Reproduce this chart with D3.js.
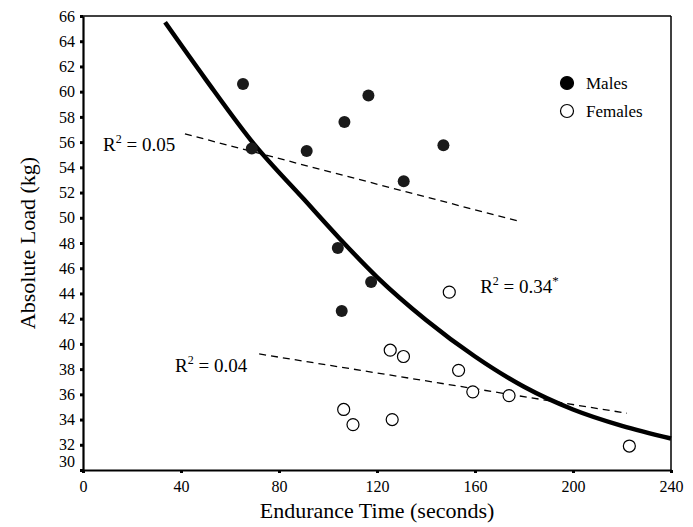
<!DOCTYPE html>
<html>
<head>
<meta charset="utf-8">
<script src="https://cdn.jsdelivr.net/npm/d3@7"></script>
<style>
  body { margin: 0; background: #fff; }
  svg { font-family: "Liberation Serif", "Times New Roman", serif; }
  text { fill: #000; }
</style>
</head>
<body>
<svg id="chart" width="693" height="527"></svg>
<script>
// endurance time (s) vs absolute load (kg)
var males = [
  [65.3, 60.6], [68.9, 55.5], [91.3, 55.3], [106.7, 57.6], [116.5, 59.7],
  [147.1, 55.75], [130.9, 52.9], [104.0, 47.6], [117.6, 44.9], [105.6, 42.6]
];
var females = [
  [149.5, 44.1], [125.4, 39.5], [130.8, 39.0], [153.3, 37.9], [159.1, 36.2],
  [173.9, 35.9], [106.4, 34.8], [110.2, 33.6], [126.2, 34.0], [223.0, 31.9]
];
// regression lines (endpoints)
var maleFit = [[41.6, 56.65], [178.4, 49.7]];
var femaleFit = [[71.9, 39.2], [222.0, 34.5]];
// pooled curve, read at regular steps
var pooledCurve = [
  [33.5, 65.5], [50, 61.0], [70, 55.8], [90, 51.5], [105, 48.3], [120, 45.3],
  [140, 41.9], [160, 39.0], [180, 36.6], [200, 34.8], [220, 33.5], [240, 32.5]
];
var xTicks = [0, 40, 80, 120, 160, 200, 240];
var yTicks = d3.range(30, 67, 2);
var legendItems = ["Males", "Females"];
var r2Labels = [
  {val: "0.05", star: false, at: [8.2, 55.3]},
  {val: "0.04", star: false, at: [37.6, 37.8]},
  {val: "0.34", star: true, at: [162.1, 44.0]}
];

var m = {left: 83, top: 16, right: 671, bottom: 470};
var svg = d3.select("#chart");

var x = d3.scaleLinear().domain([0, 240]).range([m.left, m.right]);
var y = d3.scaleLinear().domain([30, 66]).range([m.bottom, m.top]);

// frame top / right
svg.append("line").attr("x1", m.left).attr("x2", m.right).attr("y1", m.top).attr("y2", m.top)
  .style("stroke", "#000").style("stroke-width", 1.5);
svg.append("line").attr("x1", m.right).attr("x2", m.right).attr("y1", m.top).attr("y2", m.bottom)
  .style("stroke", "#000").style("stroke-width", 1.5);

// axes
var xAxis = svg.append("g")
  .attr("transform", "translate(0," + m.bottom + ")")
  .call(d3.axisBottom(x).tickValues(xTicks).tickSize(3).tickPadding(8).tickSizeOuter(0));
var yAxis = svg.append("g")
  .attr("transform", "translate(" + m.left + ",0)")
  .call(d3.axisLeft(y).tickValues(yTicks).tickSize(3).tickPadding(5).tickSizeOuter(0));

[xAxis, yAxis].forEach(function(a) {
  a.attr("font-family", null).attr("font-size", null);
  a.select(".domain").style("stroke", "#000").style("stroke-width", 2.2);
  a.selectAll(".tick line").style("stroke", "#000").style("stroke-width", 3);
  a.selectAll(".tick text").style("font-size", "16px");
});
// the bottom "30" label sits squeezed above the corner
yAxis.selectAll(".tick text").filter(d => d === 30).attr("dy", "-0.25em");

// axis titles
svg.append("text")
  .attr("x", (m.left + m.right) / 2)
  .attr("y", 518)
  .attr("text-anchor", "middle")
  .style("font-size", "22px")
  .text("Endurance Time (seconds)");
svg.append("text")
  .attr("transform", "translate(35," + ((m.top + m.bottom) / 2) + ") rotate(-90)")
  .attr("text-anchor", "middle")
  .style("font-size", "22px")
  .text("Absolute Load (kg)");

// dashed regression lines
var line = d3.line().x(d => x(d[0])).y(d => y(d[1]));
[maleFit, femaleFit].forEach(function(f) {
  svg.append("path")
    .attr("d", line(f))
    .style("fill", "none")
    .style("stroke", "#000")
    .style("stroke-width", 1.3)
    .style("stroke-dasharray", "7,5");
});

// pooled curve
svg.append("path")
  .attr("d", line.curve(d3.curveMonotoneX)(pooledCurve))
  .style("fill", "none")
  .style("stroke", "#000")
  .style("stroke-width", 4.5);

// points
svg.selectAll(".male")
  .data(males)
  .enter().append("circle")
  .attr("class", "male")
  .attr("cx", d => x(d[0]))
  .attr("cy", d => y(d[1]))
  .attr("r", 6)
  .style("fill", "#1a1a1a");

svg.selectAll(".female")
  .data(females)
  .enter().append("circle")
  .attr("class", "female")
  .attr("cx", d => x(d[0]))
  .attr("cy", d => y(d[1]))
  .attr("r", 6)
  .style("fill", "#fff")
  .style("stroke", "#000")
  .style("stroke-width", 1.2);

// R^2 labels
r2Labels.forEach(function(l) {
  var t = svg.append("text")
    .attr("x", x(l.at[0]))
    .attr("y", y(l.at[1]))
    .style("font-size", "19px");
  t.append("tspan").text("R");
  t.append("tspan").attr("dy", "-8").style("font-size", "12px").text("2");
  t.append("tspan").attr("dy", "8").text("\u00a0= " + l.val);
  if (l.star) t.append("tspan").attr("dy", "-8").style("font-size", "13px").text("*");
});

// legend
var legend = svg.selectAll(".legend")
  .data(legendItems)
  .enter().append("g")
  .attr("class", "legend")
  .attr("transform", (d, i) => "translate(567," + (83 + i * 28) + ")");
legend.append("circle")
  .attr("r", 6.5)
  .style("fill", (d, i) => i === 0 ? "#000" : "#fff")
  .style("stroke", "#000")
  .style("stroke-width", 1.2);
legend.append("text")
  .attr("x", 19)
  .attr("dy", "0.35em")
  .style("font-size", "17px")
  .text(d => d);
</script>
</body>
</html>
